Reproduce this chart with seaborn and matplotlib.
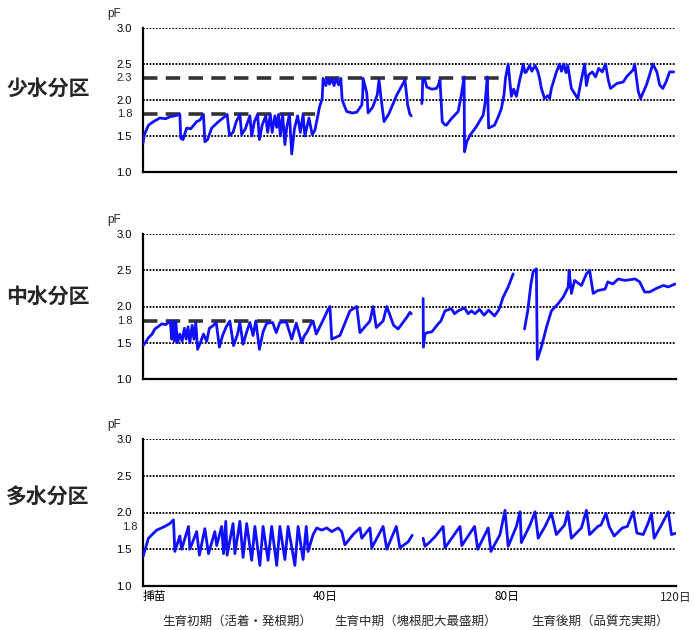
import numpy as np
import pandas as pd
import matplotlib
matplotlib.use("Agg")
import matplotlib.pyplot as plt
import matplotlib.transforms as mtransforms
import seaborn as sns

nan = np.nan

# ---- data: (day, pF) traces, NaN = gap in record ----
low_day = [0, 0.3, 1.2, 2.3, 3.7, 5, 6, 7, 8.1, 8.3, 8.8, 9.6, 10.5, 11.8, 12.5, 13.3, 13.6, 14.2, 15.1, 16.6,
           18.0, 18.5, 19.0, 19.8, 20.5, 21.3, 21.7, 22.5, 23.5, 23.9, 24.5, 25.2, 25.6, 26.2, 27, 27.4, 28, 28.4,
           29, 29.4, 29.8, 30.2, 30.7, 31.2, 31.6, 32.2, 32.7, 33.3, 34, 34.6, 35.2, 35.6, 36.5, 37.2, 37.8, 38.5,
           38.8, 39.4, 39.6, 40.2, 40.6, 41, 41.5, 42, 42.5, 43, 43.5, 43.8, 44.4, 44.8, 46, 47, 48.1, 48.3, 48.4,
           49.2, 49.5, 50.5, 51.5, 51.9, 52.3, 53, 54, 55, 55.8, 57.2, 57.6, 58.2, 58.7, 59.0,
           nan,
           61.3, 61.4, 61.5, 61.9, 62.4, 63.5, 64.5, 64.9, 65.3, 65.8, 66.3, 66.7, 67.8, 69.3, 70, 70.6, 70.7,
           71.2, 71.9, 73.3, 74.8, 75.2, 75.5, 75.7, 76, 77.3, 78.2, 78.8, 79.4, 79.7, 80.3, 80.6, 81, 81.5, 82.1,
           82.9, 83.3, 83.6, 84, 84.3, 85, 85.5, 86.2, 86.8, 87.2, 87.6, 88.3, 89, 89.4, 89.8, 90.9, 91.6, 92,
           92.5, 93, 93.4, 94.2, 95, 95.6, 96.3, 97.1, 97.5, 98, 98.8, 99.5, 100.2, 101, 101.7, 102.3, 102.8,
           104.2, 105.6, 106.3, 107.8, 108.1, 108.9, 109.4, 110.7, 111.4, 112.1, 113, 113.6, 114.3, 115, 115.8,
           116.7]
low_pf = [1.40, 1.52, 1.65, 1.70, 1.75, 1.74, 1.77, 1.78, 1.80, 1.47, 1.45, 1.61, 1.60, 1.70, 1.72, 1.80, 1.42,
          1.45, 1.61, 1.70, 1.77, 1.80, 1.51, 1.55, 1.70, 1.80, 1.52, 1.60, 1.78, 1.50, 1.70, 1.80, 1.45, 1.65,
          1.78, 1.55, 1.80, 1.55, 1.78, 1.62, 1.80, 1.50, 1.80, 1.38, 1.62, 1.80, 1.25, 1.60, 1.78, 1.55, 1.80,
          1.50, 1.75, 1.52, 1.58, 1.80, 1.90, 2.02, 2.30, 2.20, 2.30, 2.22, 2.30, 2.20, 2.30, 2.21, 2.30, 2.00,
          1.90, 1.84, 1.82, 1.83, 1.93, 2.05, 2.30, 2.10, 1.82, 1.90, 2.07, 2.28, 2.05, 1.70, 1.80, 1.95, 2.07,
          2.23, 2.28, 1.93, 1.80, 1.78,
          nan,
          1.95, 2.02, 2.28, 2.30, 2.18, 2.15, 2.16, 2.20, 2.28, 1.70, 1.66, 1.65, 1.74, 1.84, 2.07, 2.32, 1.28,
          1.42, 1.51, 1.63, 1.79, 1.95, 2.16, 2.32, 1.61, 1.65, 1.78, 1.88, 2.08, 2.30, 2.50, 2.30, 2.05, 2.15,
          2.05, 2.30, 2.40, 2.50, 2.38, 2.39, 2.48, 2.40, 2.48, 2.40, 2.30, 2.16, 2.02, 2.06, 2.02, 2.16, 2.39,
          2.50, 2.40, 2.50, 2.38, 2.48, 2.16, 2.08, 2.02, 2.25, 2.50, 2.20, 2.35, 2.39, 2.32, 2.44, 2.39, 2.50,
          2.28, 2.16, 2.23, 2.25, 2.32, 2.42, 2.50, 2.12, 2.02, 2.21, 2.35, 2.50, 2.39, 2.21, 2.16, 2.25, 2.39,
          2.39]

mid_day = [0, 0.5, 1.2, 2.0, 2.6, 3.3, 4.1, 5, 6, 6.3, 6.6, 6.9, 7.2, 7.6, 8.1, 8.6, 9.1, 9.5, 9.9, 10.3, 10.8,
           11.2, 11.6, 12.0, 12.6, 13.3, 14, 14.6, 15.5, 16.1, 16.8, 17.5, 18.3, 19.1, 19.9, 20.8, 21.3, 22, 22.8,
           23.5, 24.2, 24.8, 25.6, 26.4, 27.2, 28.5, 29.3, 30.1, 31.5, 32.7, 33.7, 34.9, 35.5, 36.0, 37.1, 37.4,
           38.1, 39.5, 40.7, 41.1, 41.5, 43.3, 44.4, 45.5, 47, 47.7, 49.9, 50.6, 51.3, 52.8, 53.6, 55.1, 56.1, 58,
           58.7, 59.0,
           nan,
           61.6, 61.65, 62, 62.5, 63.5, 64.9, 65.5, 66.4, 67.8, 68.5, 69.3, 70.7, 71.5, 72.2, 73, 74, 75, 76, 77.3,
           78.3, 79.2, 80.3, 81.4,
           nan,
           83.9, 84.2, 84.6, 85.3, 85.8, 86.5, 86.7, 87.6, 88.7, 89.8, 91.3, 92.4, 93.5, 93.7, 94.2, 94.9, 96.4,
           97.5, 98.2, 99, 100, 101.6, 102.2, 103.3, 104.5, 106, 108.2, 109.2, 110.3, 111.4, 112.9, 114.4, 115.5,
           117]
mid_pf = [1.46, 1.50, 1.57, 1.62, 1.69, 1.72, 1.76, 1.75, 1.80, 1.55, 1.78, 1.52, 1.80, 1.50, 1.62, 1.52, 1.70,
          1.55, 1.72, 1.50, 1.74, 1.55, 1.78, 1.41, 1.50, 1.62, 1.52, 1.70, 1.74, 1.78, 1.44, 1.60, 1.72, 1.80,
          1.46, 1.62, 1.78, 1.48, 1.65, 1.78, 1.60, 1.80, 1.41, 1.65, 1.77, 1.78, 1.64, 1.78, 1.79, 1.55, 1.77,
          1.50, 1.60, 1.64, 1.78, 1.80, 1.62, 1.80, 1.96, 2.00, 1.55, 1.60, 1.77, 1.94, 2.00, 1.64, 1.80, 2.00,
          1.71, 1.80, 2.00, 1.74, 1.69, 1.85, 1.92, 1.90,
          nan,
          2.11, 1.44, 1.62, 1.64, 1.65, 1.76, 1.80, 1.94, 1.97, 1.90, 1.94, 1.98, 1.90, 1.94, 1.90, 1.96, 1.88,
          1.95, 1.87, 1.96, 2.13, 2.27, 2.45,
          nan,
          1.69, 1.80, 1.94, 2.31, 2.48, 2.52, 1.27, 1.44, 1.71, 1.94, 2.04, 2.13, 2.27, 2.50, 2.18, 2.36, 2.29,
          2.45, 2.50, 2.18, 2.22, 2.24, 2.34, 2.31, 2.38, 2.36, 2.38, 2.34, 2.20, 2.20, 2.25, 2.29, 2.27, 2.31]

high_day = [0, 1.2, 3, 4.8, 5.9, 6.7, 7.0, 8.1, 8.5, 10, 10.3, 11.8, 12.4, 13.6, 14.4, 15.8, 16.2, 17.3, 17.7,
            18.2, 18.5, 19.8, 20.2, 21.3, 22.0, 22.8, 23.9, 24.6, 25.7, 26.4, 27.5, 28.3, 29.4, 30.1, 31.2, 31.9,
            33.4, 34.1, 35.2, 35.9, 36.3, 37.4, 38.2, 39.3, 40.4, 41.5, 42.9, 43.7, 44.4, 46.2, 47.7, 48.1, 49.9,
            50.3, 52.8, 53.6, 55.7, 56.5, 58.3, 59.2,
            nan,
            61.6, 62, 63.1, 64.2, 66, 66.4, 69.7, 70.1, 72.9, 73.6, 75.9, 76.5, 78.5, 79.6, 80.3, 82.1, 82.9, 83.2,
            85.1, 86.2, 86.9, 88.4, 89.8, 90.9, 92.7, 93.4, 94.2, 96.4, 97.5, 98.2, 100, 100.7, 101.8, 102.5,
            103.6, 105.4, 106.5, 107.8, 108.6, 110, 111.1, 111.8, 112.4, 114, 115.5, 116.2, 117.3]
high_pf = [1.40, 1.65, 1.76, 1.81, 1.85, 1.90, 1.47, 1.68, 1.50, 1.81, 1.50, 1.74, 1.42, 1.78, 1.44, 1.74, 1.55,
           1.81, 1.44, 1.88, 1.42, 1.85, 1.44, 1.88, 1.39, 1.85, 1.35, 1.81, 1.28, 1.81, 1.35, 1.81, 1.28, 1.81,
           1.36, 1.81, 1.28, 1.81, 1.36, 1.81, 1.47, 1.70, 1.79, 1.76, 1.79, 1.74, 1.79, 1.74, 1.56, 1.70, 1.79,
           1.65, 1.79, 1.52, 1.81, 1.50, 1.81, 1.52, 1.60, 1.69,
           nan,
           1.65, 1.54, 1.60, 1.67, 1.81, 1.52, 1.81, 1.55, 1.81, 1.50, 1.79, 1.47, 1.70, 2.03, 1.54, 1.81, 2.01,
           1.59, 1.83, 2.01, 1.65, 1.81, 1.99, 1.70, 1.83, 2.01, 1.65, 1.79, 2.03, 1.70, 1.81, 1.83, 1.99, 1.81,
           1.68, 1.79, 1.81, 2.01, 1.72, 1.70, 1.86, 1.99, 1.65, 1.83, 2.01, 1.70, 1.72]

panel_names = ["少水分区", "中水分区", "多水分区"]
# threshold lines: (pF, last day)
low_thresholds = [(1.8, 37.8), (2.3, 79.1)]
mid_thresholds = [(1.8, 37.1)]
high_thresholds = []
extra_labels = [["1.8", "2.3"], ["1.8"], ["1.8"]]
extra_values = [[1.8, 2.3], [1.8], [1.8]]
y_ticks = [1.0, 1.5, 2.0, 2.5, 3.0]
grid_levels = [1.5, 2.0, 2.5, 3.0]
x_ticks = [0, 10, 20, 30, 40, 50, 60, 70, 80, 90, 100, 110]
x_tick_labels = {0: "挿苗", 40: "40日", 80: "80日"}
x_end_label = "120日"
stage_labels = ["生育初期（活着・発根期）", "生育中期（塊根肥大最盛期）", "生育後期（品質充実期）"]
stage_centers = [237, 416, 600]  # pixel x-centres


def to_frame(days, pfs):
    df = pd.DataFrame({"day": days, "pF": pfs})
    df["seg"] = df["pF"].isna().cumsum()
    return df.dropna()


sns.set_theme(style="white")
plt.rcParams["font.family"] = ["Noto Sans CJK JP", "DejaVu Sans"]

W, H = 694, 630
fig = plt.figure(figsize=(W / 100, H / 100), dpi=100)

# axes boxes in pixels: (left, right, top(3.0), bottom(1.0))
boxes = [(143, 676, 28, 172), (143, 676, 234, 379), (143, 676, 439, 586)]
series = [(low_day, low_pf), (mid_day, mid_pf), (high_day, high_pf)]
thresholds = [low_thresholds, mid_thresholds, high_thresholds]
name_y = [88, 296, 497]
num_font = ["Liberation Sans", "DejaVu Sans"]

for i, ((l, r, t, b), (d, p)) in enumerate(zip(boxes, series)):
    ax = fig.add_axes([l / W, 1 - b / H, (r - l) / W, (b - t) / H])
    ax.set_xlim(0, 117.2)
    ax.set_ylim(1.0, 3.0)
    for lvl in grid_levels:
        ax.axhline(lvl, color="black", lw=1.3, ls=(0, (1, 0.8)), zorder=1)
    for val, xend in thresholds[i]:
        ax.plot([0, xend], [val, val], color="#333333", lw=2.6, ls=(0, (4, 2.3)), zorder=2,
                solid_capstyle="butt", dash_capstyle="butt")
    df = to_frame(d, p)
    sns.lineplot(data=df, x="day", y="pF", units="seg", estimator=None, sort=False,
                 color="#1010ff", lw=2.0, ax=ax, zorder=3)
    ax.set_xlabel("")
    ax.set_ylabel("")
    for s in ["top", "right"]:
        ax.spines[s].set_visible(False)
    for s in ["left", "bottom"]:
        ax.spines[s].set_color("black")
        ax.spines[s].set_linewidth(1.6)
    ax.set_yticks(y_ticks)
    ax.set_yticklabels([f"{v:.1f}" for v in y_ticks], fontsize=8, family=num_font)
    ax.tick_params(axis="y", direction="out", length=3, width=1.3, pad=5, colors="black")
    ax.set_xticks(x_ticks)
    ax.tick_params(axis="x", direction="in", length=5, width=1.3, colors="black", pad=3)
    if i == 2:
        ax.set_xticklabels([x_tick_labels.get(v, "") for v in x_ticks], fontsize=8.5)
        lbls = ax.get_xticklabels()
        lbls[0].set_horizontalalignment("left")
        fig.text(692 / W, 1 - 598 / H, x_end_label, ha="right", va="center", fontsize=8.5)
    else:
        ax.set_xticklabels([])
    trans = mtransforms.blended_transform_factory(ax.transAxes, ax.transData)
    for lab, val in zip(extra_labels[i], extra_values[i]):
        ax.text(-0.02 if i < 2 else -0.01, val, lab, transform=trans, ha="right", va="center",
                fontsize=8, family=num_font)
    ax.text(-0.054, 1.095, "pF", transform=ax.transAxes, ha="center", va="center", fontsize=8.5,
            family=num_font)
    ax.set_facecolor("white")
    fig.text(48 / W, 1 - name_y[i] / H, panel_names[i], ha="center", va="center",
             fontsize=15, fontweight="bold")

for lab, cx in zip(stage_labels, stage_centers):
    fig.text(cx / W, 1 - 621 / H, lab, ha="center", va="center", fontsize=9)

fig.savefig("out.png", dpi=100, facecolor="white")
